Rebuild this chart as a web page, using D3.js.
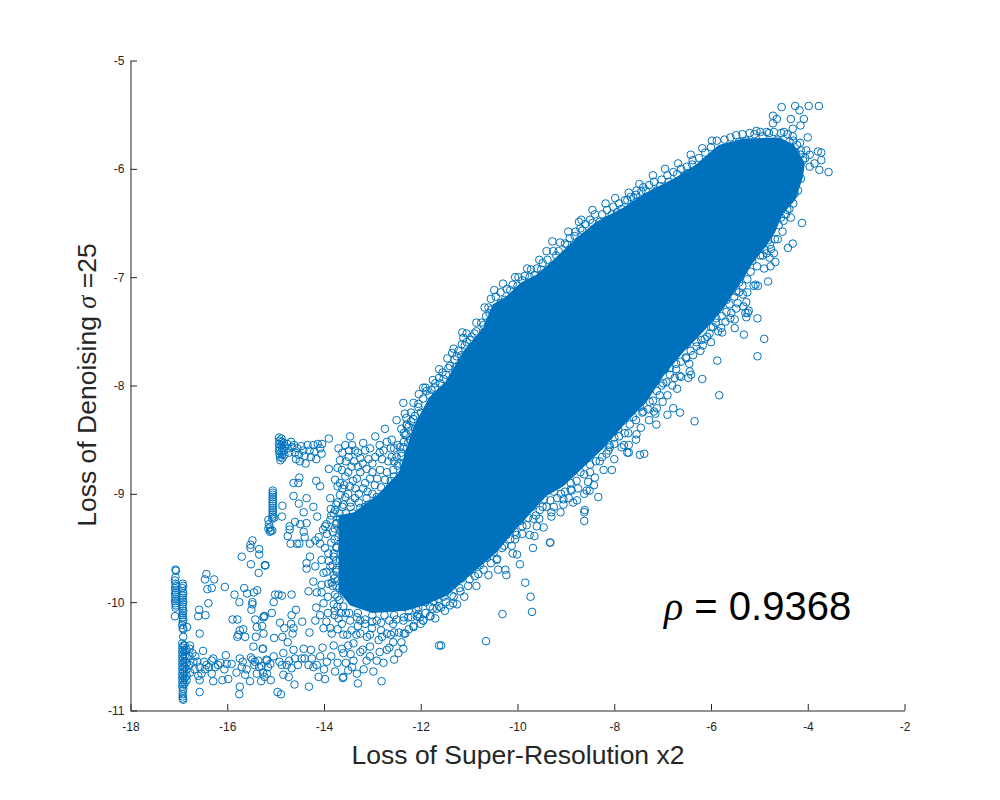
<!DOCTYPE html>
<html>
<head>
<meta charset="utf-8">
<script src="https://cdn.jsdelivr.net/npm/d3@7"></script>
<style>
body { margin: 0; background: #fff; }
text { font-family: "Liberation Sans", Arial, sans-serif; }
</style>
</head>
<body>
<svg id="chart" width="1000" height="800"></svg>
<script>
const xTicks = [-18, -16, -14, -12, -10, -8, -6, -4, -2];
const yTicks = [-5, -6, -7, -8, -9, -10, -11];

// outline of the part of the cloud where the circles merge into solid colour
const denseCore = [[-13.70,-9.20],[-13.38,-9.17],[-12.90,-9.01],[-12.45,-8.80],[-12.16,-8.39],[-11.83,-8.11],[-11.48,-7.96],[-11.13,-7.69],[-10.71,-7.47],[-10.51,-7.25],[-10.24,-7.18],[-9.93,-7.05],[-9.62,-6.98],[-9.21,-6.82],[-8.79,-6.64],[-8.38,-6.49],[-7.82,-6.36],[-7.35,-6.22],[-6.73,-6.08],[-6.31,-5.96],[-5.84,-5.78],[-5.34,-5.72],[-4.58,-5.71],[-4.28,-5.78],[-4.06,-5.95],[-4.10,-6.08],[-4.25,-6.28],[-4.52,-6.42],[-4.67,-6.58],[-4.87,-6.72],[-5.12,-6.86],[-5.33,-7.01],[-5.74,-7.29],[-6.15,-7.50],[-6.57,-7.69],[-6.98,-7.91],[-7.33,-8.15],[-7.81,-8.37],[-8.22,-8.58],[-9.05,-8.93],[-9.40,-9.02],[-10.02,-9.32],[-10.43,-9.54],[-11.05,-9.78],[-11.46,-9.94],[-11.94,-10.03],[-12.30,-10.08],[-13.00,-10.10],[-13.46,-10.03],[-13.70,-9.90]];

// the thin vertical runs of points on the far left
const columnA = [[-17.07,-9.70],[-17.06,-9.71],[-17.07,-9.77],[-17.08,-9.80],[-17.07,-9.83],[-17.06,-9.85],[-17.08,-9.87],[-17.07,-9.89],[-17.06,-9.91],[-17.08,-9.93],[-17.07,-9.95],[-17.06,-9.97],[-17.08,-9.99],[-17.07,-10.01],[-17.06,-10.03],[-17.07,-10.05],[-17.08,-10.13]];
const columnB = [[-16.92,-9.83],[-16.91,-9.85],[-16.93,-9.87],[-16.92,-9.90],[-16.91,-9.92],[-16.92,-9.94],[-16.93,-9.96],[-16.92,-9.98],[-16.91,-10.00],[-16.92,-10.02],[-16.93,-10.04],[-16.92,-10.06],[-16.91,-10.08],[-16.92,-10.10],[-16.93,-10.12],[-16.92,-10.14],[-16.91,-10.16],[-16.92,-10.18],[-16.93,-10.21],[-16.92,-10.24],[-16.91,-10.25],[-16.91,-10.32]];
const columnC = [[-16.93,-10.38],[-16.93,-10.42],[-16.93,-10.46],[-16.93,-10.50],[-16.93,-10.54],[-16.93,-10.58],[-16.93,-10.62],[-16.93,-10.66],[-16.93,-10.70],[-16.93,-10.74],[-16.93,-10.78],[-16.91,-10.40],[-16.91,-10.44],[-16.91,-10.48],[-16.91,-10.52],[-16.91,-10.56],[-16.91,-10.60],[-16.91,-10.64],[-16.91,-10.68],[-16.91,-10.72],[-16.91,-10.76],[-16.91,-10.80],[-16.92,-10.82],[-16.92,-10.85],[-16.92,-10.87],[-16.92,-10.89],[-16.91,-10.90],[-16.88,-10.40],[-16.88,-10.45],[-16.88,-10.50],[-16.88,-10.55],[-16.88,-10.60],[-16.88,-10.65],[-16.88,-10.70],[-16.88,-10.75],[-16.84,-10.44],[-16.84,-10.50],[-16.84,-10.56],[-16.84,-10.62],[-16.84,-10.68],[-16.84,-10.72],[-16.78,-10.43],[-16.78,-10.50],[-16.78,-10.58],[-16.77,-10.65],[-16.72,-10.47],[-16.70,-10.55],[-16.68,-10.62],[-16.66,-10.50]];
const columnD = [[-15.06,-8.97],[-15.06,-8.99],[-15.06,-9.01],[-15.06,-9.03],[-15.06,-9.05],[-15.06,-9.07],[-15.06,-9.09],[-15.06,-9.11],[-15.06,-9.13],[-15.06,-9.15],[-15.06,-9.17],[-15.06,-9.19],[-15.06,-9.21],[-15.07,-9.23],[-15.03,-9.22],[-15.15,-9.24],[-15.14,-9.28],[-15.12,-9.31],[-15.15,-9.32],[-15.10,-9.34],[-15.07,-9.34],[-15.12,-9.35]];
const topBar = [[-14.93,-8.48],[-14.92,-8.51],[-14.93,-8.54],[-14.92,-8.57],[-14.93,-8.60],[-14.92,-8.63],[-14.91,-8.66],[-14.90,-8.69],[-14.88,-8.49],[-14.87,-8.52],[-14.88,-8.55],[-14.87,-8.58],[-14.88,-8.61],[-14.87,-8.64],[-14.86,-8.67],[-14.83,-8.53],[-14.82,-8.56],[-14.83,-8.60],[-14.82,-8.64],[-14.76,-8.54],[-14.75,-8.58],[-14.72,-8.62],[-14.68,-8.52],[-14.66,-8.57],[-14.62,-8.55],[-14.60,-8.62],[-14.58,-8.68],[-14.55,-8.58],[-14.52,-8.64],[-14.50,-8.70],[-14.47,-8.56],[-14.43,-8.60],[-14.40,-8.65],[-14.38,-8.72],[-14.34,-8.55],[-14.30,-8.60],[-14.27,-8.66],[-14.22,-8.55],[-14.20,-8.61],[-14.16,-8.68],[-14.13,-8.54],[-14.08,-8.58],[-14.05,-8.63],[-14.04,-8.54]];

const sparseLeft = [[-16.43,-9.74],[-16.46,-9.79],[-16.27,-9.79],[-16.41,-9.88],[-16.32,-9.87],[-16.05,-9.86],[-15.85,-9.93],[-15.65,-9.87],[-15.59,-9.92],[-15.45,-9.91],[-15.38,-9.89],[-15.75,-10.00],[-15.48,-10.00],[-15.48,-10.02],[-15.50,-10.07],[-16.39,-10.01],[-16.58,-10.07],[-16.60,-10.13],[-16.45,-10.12],[-15.89,-10.16],[-15.79,-10.16],[-15.42,-10.16],[-15.23,-10.13],[-15.25,-10.14],[-16.57,-10.29],[-16.83,-10.23],[-15.67,-10.25],[-15.74,-10.26],[-15.77,-10.30],[-15.79,-10.32],[-15.63,-10.32],[-15.39,-10.23],[-15.28,-10.22],[-15.25,-10.29],[-15.41,-10.32],[-15.46,-10.41],[-15.27,-10.43],[-15.70,-9.58],[-15.51,-9.65],[-15.35,-9.73],[-15.21,-9.66],[-15.52,-9.47],[-15.48,-9.43],[-15.52,-9.50],[-15.34,-9.51],[-15.34,-9.56],[-15.22,-9.66]];
const bottomBandLeft = [[-16.50,-10.45],[-16.77,-10.40],[-16.03,-10.49],[-15.74,-10.52],[-16.29,-10.52],[-16.32,-10.54],[-16.43,-10.58],[-16.19,-10.58],[-16.01,-10.57],[-15.91,-10.57],[-16.57,-10.60],[-16.53,-10.66],[-16.57,-10.72],[-16.29,-10.73],[-16.32,-10.66],[-16.10,-10.72],[-15.98,-10.71],[-15.81,-10.65],[-15.70,-10.60],[-15.63,-10.67],[-15.53,-10.73],[-15.74,-10.78],[-15.75,-10.85],[-16.57,-10.83],[-15.51,-10.51],[-15.43,-10.55],[-15.29,-10.59],[-15.39,-10.66],[-15.23,-10.69],[-15.30,-10.73],[-15.19,-10.53],[-16.62,-10.55],[-16.60,-10.68],[-16.48,-10.55],[-16.46,-10.62],[-16.38,-10.60],[-16.25,-10.60],[-16.14,-10.56],[-16.06,-10.62],[-15.68,-10.55],[-15.60,-10.62],[-15.48,-10.53],[-15.44,-10.58],[-15.36,-10.54],[-15.34,-10.60],[-15.26,-10.65],[-15.16,-10.60],[-15.18,-10.66],[-15.10,-10.72]];
const sparseMiddle = [[-14.63,-8.90],[-14.51,-8.85],[-14.53,-8.90],[-14.16,-8.88],[-14.08,-8.93],[-14.63,-9.02],[-14.36,-9.04],[-14.52,-9.09],[-14.22,-9.12],[-14.42,-9.17],[-14.14,-9.21],[-13.87,-9.04],[-14.86,-9.11],[-14.87,-9.21],[-14.60,-9.26],[-14.49,-9.28],[-14.36,-9.27],[-14.71,-9.30],[-14.71,-9.33],[-14.42,-9.35],[-14.40,-9.40],[-14.75,-9.39],[-14.69,-9.46],[-14.56,-9.46],[-14.51,-9.46],[-14.29,-9.46],[-14.18,-9.43],[-14.11,-9.40],[-14.08,-9.46],[-13.98,-9.30],[-13.94,-9.37],[-13.87,-9.24],[-13.77,-9.15],[-13.74,-9.27],[-13.67,-9.01],[-13.72,-8.93],[-13.77,-8.87],[-13.90,-8.77],[-13.90,-8.49],[-15.22,-9.66],[-14.29,-9.58],[-14.36,-9.64],[-14.36,-9.69],[-14.18,-9.67],[-14.05,-9.61],[-14.01,-9.73],[-13.91,-9.55],[-13.87,-9.67],[-13.74,-9.49],[-13.67,-9.61],[-14.22,-9.81],[-14.05,-9.84],[-13.91,-9.83],[-14.32,-9.90],[-14.15,-9.91],[-14.05,-9.91],[-13.77,-9.93],[-14.67,-9.93],[-15.01,-9.93],[-14.87,-9.94],[-14.94,-9.93],[-15.04,-10.00],[-14.58,-10.07],[-14.67,-10.12],[-14.16,-10.05],[-14.01,-10.01],[-13.72,-10.04],[-15.08,-10.10],[-15.24,-10.13],[-14.45,-10.18],[-14.91,-10.19],[-14.68,-10.20],[-14.63,-10.24],[-14.82,-10.24],[-14.18,-10.17],[-14.08,-10.12],[-14.30,-10.28],[-14.65,-10.29],[-14.01,-10.24],[-13.87,-10.24],[-13.84,-10.29],[-13.70,-10.15],[-13.63,-10.20],[-15.03,-10.33],[-14.86,-10.32],[-14.75,-10.37],[-15.26,-10.43],[-13.80,-9.75],[-13.72,-9.80],[-13.85,-9.45],[-13.70,-9.40],[-13.95,-9.72],[-13.80,-9.58],[-13.75,-9.70],[-13.68,-9.87],[-13.82,-9.85],[-13.92,-9.95],[-13.80,-10.02],[-13.68,-9.98],[-13.65,-10.10],[-13.78,-10.12],[-13.92,-10.10],[-13.95,-10.18],[-13.72,-10.25],[-13.78,-9.32],[-13.66,-9.34],[-13.86,-9.14],[-13.68,-9.18],[-13.64,-9.28],[-13.62,-9.50]];
const bottomBandRight = [[-14.84,-10.47],[-14.63,-10.44],[-14.42,-10.43],[-14.27,-10.44],[-14.03,-10.42],[-13.80,-10.40],[-13.63,-10.43],[-15.18,-10.54],[-15.04,-10.50],[-15.11,-10.57],[-14.87,-10.58],[-14.77,-10.58],[-14.67,-10.61],[-14.84,-10.67],[-14.73,-10.69],[-14.60,-10.52],[-14.46,-10.52],[-14.32,-10.58],[-14.22,-10.60],[-14.08,-10.50],[-13.94,-10.55],[-14.11,-10.69],[-13.98,-10.71],[-13.77,-10.64],[-13.60,-10.69],[-13.61,-10.70],[-14.61,-10.76],[-14.31,-10.78],[-14.96,-10.83],[-14.89,-10.85],[-13.30,-10.75],[-12.81,-10.73],[-12.98,-10.64],[-13.32,-10.66],[-13.50,-10.63],[-13.12,-10.54],[-13.39,-10.54],[-13.25,-10.46],[-13.60,-10.47],[-12.91,-10.54],[-12.77,-10.56],[-12.55,-10.53],[-12.46,-10.47],[-12.36,-10.43],[-12.70,-10.44],[-13.05,-10.41],[-13.39,-10.38],[-12.87,-10.35],[-12.57,-10.37],[-12.32,-10.29],[-13.11,-10.32],[-12.70,-10.29],[-13.01,-10.24],[-13.43,-10.26],[-13.25,-10.29],[-13.46,-10.17],[-13.25,-10.17],[-12.91,-10.17],[-12.57,-10.20],[-12.36,-10.17],[-12.15,-10.23],[-11.95,-10.17],[-11.81,-10.13],[-12.08,-10.13],[-11.67,-10.06],[-11.62,-10.40],[-14.92,-10.55],[-14.72,-10.54],[-14.54,-10.58],[-14.40,-10.52],[-14.25,-10.52],[-14.15,-10.58],[-14.00,-10.62],[-13.85,-10.50],[-13.72,-10.56],[-13.55,-10.56],[-13.45,-10.48],[-13.42,-10.60],[-13.18,-10.62],[-13.05,-10.50],[-12.85,-10.46],[-12.65,-10.42],[-13.20,-10.44],[-13.52,-10.30],[-13.50,-10.40],[-13.33,-10.30],[-13.15,-10.20],[-12.82,-10.26],[-12.62,-10.30],[-12.45,-10.28],[-12.55,-10.12],[-12.75,-10.12],[-13.00,-10.12],[-13.30,-10.10],[-13.55,-10.10],[-12.25,-10.08],[-12.05,-10.05]];
const upperLeftCluster = [[-12.74,-8.40],[-12.50,-8.32],[-12.29,-8.36],[-12.32,-8.46],[-13.46,-8.47],[-13.19,-8.53],[-12.94,-8.47],[-12.60,-8.50],[-12.43,-8.57],[-13.70,-8.58],[-13.56,-8.55],[-13.36,-8.60],[-13.05,-8.58],[-12.77,-8.60],[-13.67,-8.69],[-13.49,-8.66],[-13.25,-8.67],[-12.94,-8.66],[-12.67,-8.70],[-12.50,-8.66],[-12.26,-8.53],[-13.63,-8.78],[-13.43,-8.75],[-13.12,-8.77],[-12.84,-8.78],[-12.57,-8.78],[-12.36,-8.72],[-12.15,-8.47],[-13.56,-8.84],[-13.32,-8.86],[-13.05,-8.86],[-12.74,-8.87],[-12.43,-8.83],[-13.67,-8.90],[-13.46,-8.93],[-13.19,-8.95],[-12.91,-9.03],[-12.63,-8.93],[-13.56,-9.03],[-13.36,-9.04],[-13.12,-9.04],[-12.77,-9.01],[-13.60,-9.10],[-13.25,-9.13],[-13.80,-9.18],[-13.67,-9.23],[-13.42,-8.55],[-13.30,-8.62],[-13.15,-8.60],[-12.85,-8.55],[-12.70,-8.52],[-12.55,-8.58],[-12.40,-8.65],[-13.55,-8.70],[-13.38,-8.70],[-13.20,-8.72],[-13.00,-8.72],[-12.80,-8.68],[-12.60,-8.66],[-13.50,-8.80],[-13.25,-8.80],[-13.00,-8.80],[-12.70,-8.80],[-12.48,-8.74],[-13.62,-8.95],[-13.40,-8.88],[-13.15,-8.90],[-12.95,-8.92],[-12.82,-8.94],[-12.50,-8.88],[-13.50,-9.00],[-13.28,-9.00],[-13.00,-9.00],[-13.45,-9.12],[-13.15,-9.12],[-12.95,-9.10],[-12.70,-9.00],[-12.55,-8.95],[-13.55,-9.18],[-13.40,-9.18],[-13.45,-9.08],[-13.28,-9.08],[-13.08,-9.10],[-12.88,-9.06],[-12.62,-8.88],[-12.55,-8.84],[-12.45,-8.90],[-13.35,-8.95],[-13.10,-8.98],[-12.90,-8.86],[-13.30,-8.75],[-13.08,-8.68],[-12.85,-8.62],[-12.62,-8.58],[-12.55,-8.70],[-13.48,-8.60],[-13.62,-8.62],[-13.72,-8.76],[-13.58,-8.92],[-13.72,-9.08]];
const upperFringe = [[-11.14,-7.51],[-10.89,-7.52],[-11.12,-7.56],[-10.71,-7.51],[-11.09,-7.63],[-11.35,-7.70],[-11.45,-7.75],[-11.16,-7.72],[-11.26,-7.73],[-11.43,-7.84],[-11.27,-7.83],[-11.53,-7.94],[-11.90,-8.02],[-11.71,-8.02],[-12.04,-8.08],[-11.82,-8.09],[-12.15,-8.16],[-12.36,-8.16],[-12.05,-8.17],[-12.33,-8.26],[-12.15,-8.31],[-12.29,-8.37],[-12.35,-8.44],[-12.22,-8.50],[-12.36,-8.57],[-12.26,-8.63],[-10.58,-7.33],[-10.54,-7.30],[-10.57,-7.40],[-10.26,-7.21],[-10.98,-7.58],[-11.60,-8.09],[-11.81,-8.20],[-9.28,-6.67],[-8.97,-6.70],[-8.73,-6.49],[-8.66,-6.57],[-8.51,-6.59],[-8.73,-6.66],[-9.09,-6.83],[-9.23,-6.90],[-9.51,-6.93],[-9.47,-6.98],[-8.30,-6.49],[-8.13,-6.47],[-8.30,-6.56],[-7.94,-6.40],[-7.85,-6.37],[-7.73,-6.29],[-7.54,-6.20],[-7.44,-6.21],[-7.51,-6.30],[-7.27,-6.26],[-7.13,-6.20],[-6.98,-6.21],[-6.79,-6.16],[-6.52,-6.07],[-6.44,-6.04],[-10.00,-7.08],[-10.15,-7.12],[-10.35,-7.24],[-9.75,-7.00],[-9.65,-6.98],[-9.90,-7.03],[-10.70,-7.44],[-10.80,-7.60],[-11.00,-7.68],[-11.20,-7.82],[-11.60,-7.98],[-12.00,-8.25],[-12.12,-8.40],[-9.35,-6.95],[-9.20,-6.80],[-8.90,-6.74],[-8.82,-6.62],[-8.45,-6.50],[-8.05,-6.42],[-7.60,-6.27],[-7.35,-6.20],[-7.05,-6.16],[-6.87,-6.12],[-6.70,-6.05],[-6.60,-6.10]];
// band of overlapping circles just above the solid part
const upperBand = [[-12.45,-8.72],[-12.40,-8.62],[-12.35,-8.52],[-12.30,-8.45],[-12.25,-8.38],[-12.20,-8.33],[-12.12,-8.28],[-12.05,-8.20],[-11.95,-8.12],[-11.88,-8.05],[-11.78,-8.04],[-11.70,-7.98],[-11.62,-7.93],[-11.55,-7.88],[-11.48,-7.90],[-11.40,-7.82],[-11.30,-7.76],[-11.22,-7.68],[-11.15,-7.62],[-11.05,-7.60],[-10.95,-7.55],[-10.85,-7.50],[-10.75,-7.42],[-10.65,-7.36],[-10.60,-7.28],[-10.55,-7.20],[-10.45,-7.18],[-10.35,-7.14],[-10.22,-7.11],[-10.10,-7.07],[-9.98,-7.00],[-9.85,-6.99],[-9.72,-6.93],[-9.60,-6.92],[-9.48,-6.87],[-9.38,-6.84],[-9.26,-6.76],[-9.15,-6.76],[-9.02,-6.69],[-8.92,-6.64],[-8.80,-6.58],[-8.70,-6.55],[-8.60,-6.51],[-8.50,-6.47],[-8.40,-6.42],[-8.25,-6.42],[-8.15,-6.38],[-8.02,-6.35],[-7.90,-6.32],[-7.78,-6.29],[-7.66,-6.26],[-7.55,-6.24],[-7.40,-6.17],[-7.28,-6.15],[-7.18,-6.12],[-7.02,-6.10],[-6.90,-6.06],[-6.78,-6.03],[-6.62,-6.00],[-6.50,-5.98],[-6.38,-5.92],[-6.25,-5.90],[-6.12,-5.85],[-6.00,-5.80],[-5.88,-5.74],[-5.72,-5.73],[-5.60,-5.71],[-5.48,-5.69],[-5.35,-5.68],[-5.20,-5.67],[-5.10,-5.68],[-4.98,-5.66],[-4.85,-5.66],[-4.70,-5.66],[-4.55,-5.67],[-4.42,-5.68],[-4.30,-5.74],[-4.22,-5.78],[-4.15,-5.87],[-4.05,-5.90],[-12.48,-8.55],[-12.40,-8.40],[-12.30,-8.30],[-12.20,-8.25],[-11.95,-8.02],[-11.75,-7.95],[-11.62,-7.85],[-11.32,-7.66],[-11.05,-7.52],[-10.85,-7.42],[-10.68,-7.28],[-10.48,-7.12],[-10.30,-7.06],[-10.05,-7.00],[-9.80,-6.92],[-9.55,-6.84],[-9.40,-6.76],[-9.12,-6.68],[-8.95,-6.58],[-8.68,-6.47],[-8.45,-6.38],[-8.18,-6.32],[-7.98,-6.27],[-7.70,-6.22],[-7.48,-6.14],[-7.20,-6.06],[-6.95,-6.00],[-6.68,-5.95],[-6.42,-5.87],[-6.18,-5.81],[-5.98,-5.74]];
const tipFringe = [[-4.54,-5.43],[-4.26,-5.42],[-4.17,-5.46],[-3.98,-5.42],[-3.77,-5.42],[-4.72,-5.51],[-4.64,-5.54],[-4.72,-5.58],[-4.35,-5.54],[-4.08,-5.54],[-4.15,-5.60],[-4.31,-5.63],[-4.49,-5.66],[-5.06,-5.65],[-4.80,-5.67],[-4.00,-5.71],[-4.16,-5.76],[-4.31,-5.70],[-4.93,-5.70],[-3.57,-6.03],[-3.76,-6.01],[-3.72,-5.85],[-3.79,-5.84],[-3.96,-5.87],[-3.72,-5.92],[-3.86,-5.95],[-3.96,-5.98],[-4.10,-5.92],[-4.03,-5.83],[-4.14,-5.83],[-4.12,-6.50],[-4.31,-6.69],[-4.41,-6.73],[-4.38,-6.29],[-4.38,-6.37],[-4.45,-6.42],[-4.58,-6.38],[-4.72,-6.47],[-4.76,-6.57],[-4.62,-6.65],[-4.82,-6.66],[-4.76,-6.74],[-4.89,-6.75],[-4.79,-6.82],[-5.03,-6.69],[-4.24,-6.13],[-4.14,-6.09],[-4.27,-6.23],[-6.39,-5.96],[-6.55,-6.07],[-6.48,-6.04],[-6.06,-5.93],[-5.91,-5.90],[-5.75,-5.84],[-5.62,-5.80],[-5.42,-5.75],[-5.27,-5.74],[-4.62,-5.73],[-4.38,-5.75],[-4.77,-6.90],[-4.67,-6.86],[-4.93,-6.80],[-5.03,-7.08],[-5.33,-7.27],[-5.24,-7.33],[-4.20,-6.00],[-4.25,-5.85],[-4.45,-6.25],[-4.55,-6.45],[-4.88,-6.58],[-5.10,-6.72],[-5.15,-6.85],[-5.30,-6.90],[-5.42,-7.05]];
const lowerFringe = [[-11.58,-10.40],[-10.65,-10.36],[-10.31,-10.11],[-9.70,-10.09],[-9.73,-9.95],[-9.84,-9.82],[-10.23,-9.75],[-10.25,-9.70],[-9.95,-9.65],[-10.43,-9.61],[-10.01,-9.56],[-10.32,-9.50],[-9.68,-9.50],[-9.32,-9.45],[-9.33,-9.45],[-9.65,-9.39],[-10.05,-9.42],[-10.12,-9.48],[-9.46,-9.31],[-9.90,-9.37],[-8.62,-9.25],[-8.62,-9.17],[-8.77,-9.06],[-9.11,-9.17],[-9.30,-9.21],[-9.55,-9.23],[-9.05,-9.10],[-9.54,-9.15],[-9.40,-9.12],[-10.63,-9.59],[-10.81,-9.74],[-10.99,-9.79],[-10.78,-9.66],[-11.20,-9.87],[-11.33,-10.01],[-11.40,-10.03],[-11.58,-10.05],[-11.36,-9.94],[-11.64,-9.97],[-11.80,-10.13],[-11.95,-10.17],[-12.15,-10.22],[-12.35,-10.29],[-12.40,-10.37],[-11.81,-10.04],[-12.09,-10.07],[-12.26,-10.14],[-10.49,-9.54],[-10.05,-9.35],[-9.81,-9.29],[-8.88,-8.97],[-8.57,-8.97],[-8.33,-9.03],[-8.54,-8.89],[-9.67,-9.23],[-9.30,-9.17],[-10.23,-9.38],[-10.36,-9.44],[-10.63,-9.54],[-11.02,-9.70],[-10.78,-9.61],[-11.53,-9.95],[-11.74,-9.99],[-12.02,-10.14],[-7.38,-8.63],[-7.70,-8.62],[-7.70,-8.55],[-6.34,-8.33],[-7.13,-8.36],[-7.45,-8.39],[-6.90,-8.27],[-6.64,-8.25],[-6.78,-8.21],[-7.12,-8.21],[-7.18,-8.24],[-7.40,-8.24],[-7.54,-8.45],[-7.71,-8.44],[-5.83,-8.09],[-6.70,-8.03],[-6.18,-7.94],[-6.90,-8.09],[-7.06,-8.09],[-6.44,-7.87],[-6.41,-7.90],[-6.47,-7.93],[-6.65,-7.91],[-6.75,-7.93],[-5.87,-7.77],[-5.04,-7.73],[-4.90,-7.57],[-5.32,-7.53],[-6.37,-7.72],[-6.17,-7.63],[-6.30,-7.60],[-5.04,-7.38],[-5.51,-7.47],[-5.77,-7.51],[-5.79,-7.47],[-5.70,-7.41],[-5.51,-7.39],[-5.58,-7.33],[-5.27,-7.37],[-5.22,-7.31],[-5.29,-7.33],[-5.48,-7.29],[-5.27,-7.23],[-5.34,-7.16],[-5.08,-7.07],[-4.82,-7.04],[-6.03,-7.52],[-6.13,-7.57],[-6.51,-7.75],[-6.72,-7.80],[-6.85,-7.84],[-6.99,-7.98],[-7.27,-8.15],[-7.47,-8.20],[-7.61,-8.29],[-7.85,-8.33],[-7.92,-8.40],[-7.85,-8.57],[-8.09,-8.57],[-8.16,-8.63],[-5.96,-7.46],[-5.89,-7.38],[-5.68,-7.21],[-5.48,-7.13],[-7.47,-8.64],[-7.73,-8.62],[-8.05,-8.78],[-8.51,-8.97],[-8.61,-9.15],[-8.94,-9.04],[-8.90,-8.90],[-8.70,-8.80],[-8.50,-8.73],[-8.30,-8.70],[-8.10,-8.55],[-8.00,-8.48],[-8.40,-8.85],[-8.75,-8.95],[-9.10,-9.00],[-9.25,-8.98],[-9.45,-9.05],[-9.70,-9.12],[-9.95,-9.25],[-10.15,-9.32],[-10.30,-9.35],[-10.55,-9.50],[-10.90,-9.60],[-11.15,-9.78],[-11.30,-9.82],[-11.50,-9.90],[-11.90,-10.00],[-12.20,-10.02],[-7.60,-8.18],[-7.30,-7.98],[-7.10,-7.90],[-6.95,-7.85],[-6.75,-7.70],[-6.50,-7.62],[-6.35,-7.52],[-6.10,-7.38],[-5.95,-7.28],[-5.70,-7.10],[-5.55,-7.02],[-5.40,-7.00],[-7.95,-8.35],[-8.15,-8.42]];
// band of overlapping circles just below the solid part
const lowerBand = [[-4.20,-6.20],[-4.30,-6.32],[-4.42,-6.38],[-4.50,-6.48],[-4.60,-6.52],[-4.68,-6.65],[-4.78,-6.70],[-4.85,-6.78],[-4.98,-6.80],[-5.05,-6.90],[-5.18,-6.95],[-5.25,-7.02],[-5.35,-7.08],[-5.42,-7.14],[-5.52,-7.18],[-5.62,-7.25],[-5.68,-7.32],[-5.78,-7.36],[-5.90,-7.42],[-6.00,-7.46],[-6.08,-7.55],[-6.20,-7.58],[-6.30,-7.64],[-6.42,-7.68],[-6.52,-7.74],[-6.62,-7.78],[-6.72,-7.85],[-6.85,-7.90],[-6.92,-7.97],[-7.02,-8.00],[-7.12,-8.05],[-7.20,-8.14],[-7.30,-8.22],[-7.42,-8.25],[-7.55,-8.32],[-7.68,-8.36],[-7.78,-8.44],[-7.90,-8.47],[-8.00,-8.54],[-8.12,-8.60],[-8.25,-8.66],[-8.38,-8.70],[-8.50,-8.80],[-8.62,-8.82],[-8.78,-8.88],[-8.90,-8.96],[-9.02,-8.98],[-9.18,-9.04],[-9.32,-9.06],[-9.48,-9.12],[-9.62,-9.20],[-9.78,-9.22],[-9.90,-9.30],[-10.02,-9.38],[-10.15,-9.42],[-10.28,-9.48],[-10.42,-9.60],[-10.55,-9.64],[-10.70,-9.70],[-10.88,-9.76],[-11.02,-9.85],[-11.18,-9.90],[-11.32,-9.95],[-11.48,-10.00],[-11.62,-10.04],[-11.75,-10.06],[-11.90,-10.10],[-12.05,-10.11],[-12.20,-10.14],[-12.35,-10.14],[-12.50,-10.16],[-12.65,-10.17],[-12.82,-10.19],[-13.00,-10.18],[-13.15,-10.16],[-13.32,-10.14],[-13.48,-10.10],[-13.60,-10.04],[-13.72,-9.95],[-4.35,-6.45],[-4.52,-6.58],[-4.70,-6.78],[-4.90,-6.92],[-5.12,-7.08],[-5.25,-7.14],[-5.45,-7.24],[-5.60,-7.38],[-5.85,-7.50],[-6.00,-7.60],[-6.22,-7.68],[-6.45,-7.80],[-6.62,-7.92],[-6.80,-8.00],[-7.00,-8.15],[-7.15,-8.26],[-7.28,-8.32],[-7.55,-8.50],[-7.80,-8.55],[-8.00,-8.68],[-8.22,-8.78],[-8.42,-8.92],[-8.62,-9.00],[-8.85,-9.08],[-9.05,-9.05],[-9.25,-9.12],[-9.60,-9.30],[-9.75,-9.38],[-10.10,-9.55],[-10.40,-9.70],[-10.60,-9.75],[-10.85,-9.85],[-11.10,-9.95],[-11.25,-10.02],[-11.50,-10.08],[-11.70,-10.15],[-12.00,-10.20],[-12.25,-10.25],[-12.55,-10.28],[-12.80,-10.32],[-13.05,-10.30],[-13.30,-10.22],[-13.60,-10.30],[-13.78,-10.08]];
const leftBand = [[-13.75,-9.28],[-13.82,-9.35],[-13.78,-9.42],[-13.74,-9.50],[-13.80,-9.55],[-13.75,-9.62],[-13.82,-9.66],[-13.74,-9.72],[-13.78,-9.78],[-13.84,-9.82],[-13.74,-9.85],[-13.85,-9.20],[-13.95,-9.28],[-13.90,-9.62],[-13.98,-9.50],[-14.02,-9.33],[-13.75,-9.10],[-13.62,-9.12]];

const svg = d3.select("#chart");
const x = d3.scaleLinear().domain([-18, -2]).range([130.5, 904.5]);
const y = d3.scaleLinear().domain([-11, -5]).range([710.5, 60.5]);
const blue = "#0072BD";
const axisCol = "#262626";

// solid middle of the cloud
svg.append("path")
    .attr("d", d3.line().x(d => x(d[0])).y(d => y(d[1])).curve(d3.curveLinearClosed)(denseCore))
    .attr("fill", blue);

const points = [].concat(columnA, columnB, columnC, columnD, topBar, sparseLeft, bottomBandLeft,
    sparseMiddle, bottomBandRight, upperLeftCluster, upperFringe, upperBand, tipFringe,
    lowerFringe, lowerBand, leftBand);

svg.append("g").selectAll("circle")
    .data(points)
    .join("circle")
    .attr("cx", d => x(d[0]))
    .attr("cy", d => y(d[1]))
    .attr("r", 3.8)
    .attr("fill", "none")
    .attr("stroke", blue)
    .attr("stroke-width", 1);

const xAxis = d3.axisBottom(x).tickValues(xTicks).tickFormat(d => String(d))
    .tickSizeInner(-6.5).tickSizeOuter(0).tickPadding(12);
const yAxis = d3.axisLeft(y).tickValues(yTicks).tickFormat(d => String(d))
    .tickSizeInner(-6.5).tickSizeOuter(0).tickPadding(6);

const gx = svg.append("g").attr("transform", "translate(0,710.5)").call(xAxis);
const gy = svg.append("g").attr("transform", "translate(130.5,0)").call(yAxis);
[gx, gy].forEach(g => {
    g.selectAll("path, line").attr("stroke", axisCol);
    g.selectAll("text").attr("fill", axisCol).style("font-size", "12px")
        .style("font-family", "'Liberation Sans', Arial, sans-serif");
});

svg.append("text").attr("x", 518).attr("y", 764)
    .attr("text-anchor", "middle").attr("fill", axisCol)
    .style("font-size", "26.5px").text("Loss of Super-Resolution x2");

const yLabel = svg.append("text")
    .attr("transform", "translate(96,385) rotate(-90)")
    .attr("text-anchor", "middle").attr("fill", axisCol)
    .style("font-size", "26.5px");
yLabel.append("tspan").text("Loss of Denoising ");
yLabel.append("tspan").style("font-family", "'Liberation Serif', serif").style("font-style", "italic").text("σ");
yLabel.append("tspan").text(" =25");

const rho = svg.append("text").attr("x", 664).attr("y", 620)
    .attr("fill", "#000").style("font-size", "40px");
rho.append("tspan").style("font-family", "'Liberation Serif', serif").style("font-style", "italic").text("ρ");
rho.append("tspan").text(" = 0.9368");
</script>
</body>
</html>
